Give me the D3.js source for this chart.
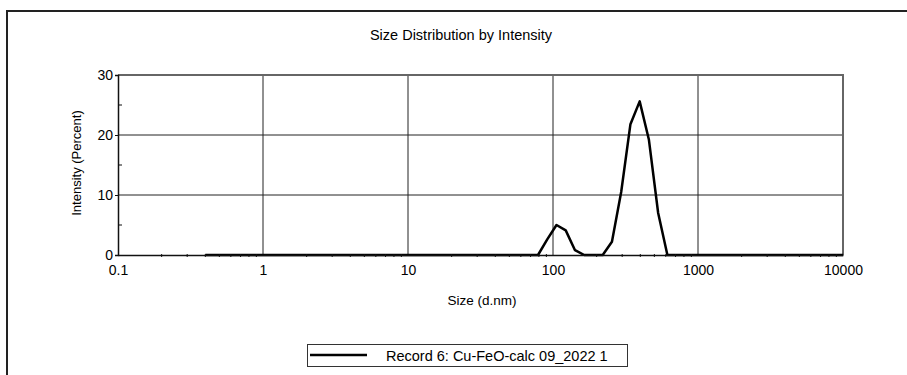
<!DOCTYPE html>
<html>
<head>
<meta charset="utf-8">
<script src="https://cdn.jsdelivr.net/npm/d3@7"></script>
<style>
  body { margin: 0; background: #fff; }
  svg { display: block; font-family: "Liberation Sans", Arial, sans-serif; }
  text { fill: #000; }
</style>
</head>
<body>
<svg width="907" height="375"></svg>
<script>
// size bins (d.nm) and intensity (%)
const sizes = [0.4, 78.82, 91.28, 105.7, 122.4, 141.8, 164.2, 190.1, 220.2, 255.0,
  295.3, 342.0, 396.1, 458.7, 531.2, 615.1, 10000];
const intensity = [0, 0, 2.6, 5.0, 4.1, 0.8, 0, 0, 0, 2.2,
  10.5, 21.8, 25.6, 19.2, 7.0, 0, 0];

const xTicks = [0.1, 1, 10, 100, 1000, 10000];
const yTicks = [0, 10, 20, 30];
const yMinor = [5, 15, 25];
const seriesName = 'Record 6: Cu-FeO-calc 09_2022 1';

const svg = d3.select('svg');

// outer frame
svg.append('path')
  .attr('d', 'M7,376 V11 H910')
  .attr('fill', 'none')
  .attr('stroke', '#222')
  .attr('stroke-width', 2);

const x = d3.scaleLog().domain([0.1, 10000]).range([118, 843]);
const y = d3.scaleLinear().domain([0, 30]).range([255, 75]);

// minor x ticks (2..9 per decade)
const minorX = [];
for (let d = 0.1; d < 10000; d *= 10) {
  for (let k = 2; k <= 9; k++) minorX.push(d * k);
}

// grid
svg.append('g').selectAll('line')
  .data(xTicks.slice(1, -1))
  .enter().append('line')
  .attr('x1', d => x(d)).attr('x2', d => x(d))
  .attr('y1', 75).attr('y2', 255)
  .attr('stroke', '#222').attr('stroke-width', 1);

svg.append('g').selectAll('line')
  .data(yTicks.slice(1, -1))
  .enter().append('line')
  .attr('x1', 118).attr('x2', 843)
  .attr('y1', d => y(d)).attr('y2', d => y(d))
  .attr('stroke', '#222').attr('stroke-width', 1);

// top and right plot border (grey)
svg.append('path')
  .attr('d', `M118,${y(30)} H${x(10000)} V255`)
  .attr('fill', 'none')
  .attr('stroke', '#666')
  .attr('stroke-width', 2);

// data line
const line = d3.line()
  .x((d, i) => x(sizes[i]))
  .y(d => y(d));

svg.append('path')
  .datum(intensity)
  .attr('d', line)
  .attr('fill', 'none')
  .attr('stroke', '#000')
  .attr('stroke-width', 2.5)
  .attr('stroke-linejoin', 'round');

// axes
const xAxis = d3.axisBottom(x)
  .tickValues(xTicks)
  .tickFormat(d3.format('~g'))
  .tickSize(0)
  .tickPadding(10);

const gx = svg.append('g')
  .attr('transform', 'translate(0,255)')
  .call(xAxis);
gx.select('.domain').attr('stroke', '#111').attr('stroke-width', 1.5);
gx.selectAll('text').attr('font-size', 14).attr('font-family', '"Liberation Sans", Arial, sans-serif').attr('fill', '#000');

gx.selectAll('.minor')
  .data(minorX)
  .enter().append('line')
  .attr('class', 'minor')
  .attr('x1', d => x(d)).attr('x2', d => x(d))
  .attr('y1', -1).attr('y2', 2)
  .attr('stroke', '#111');

const yAxis = d3.axisLeft(y)
  .tickValues(yTicks)
  .tickSize(3)
  .tickPadding(2);

const gy = svg.append('g')
  .attr('transform', 'translate(118,0)')
  .call(yAxis);
gy.select('.domain').attr('stroke', '#111').attr('stroke-width', 1.5);
gy.selectAll('.tick line').attr('stroke', '#111');
gy.selectAll('text').attr('font-size', 14).attr('font-family', '"Liberation Sans", Arial, sans-serif').attr('fill', '#000');

gy.selectAll('.minor')
  .data(yMinor)
  .enter().append('line')
  .attr('class', 'minor')
  .attr('x1', 0).attr('x2', 4)
  .attr('y1', d => y(d)).attr('y2', d => y(d))
  .attr('stroke', '#111');

// titles
svg.append('text')
  .attr('x', 461).attr('y', 40)
  .attr('text-anchor', 'middle')
  .attr('font-size', 14.5)
  .text('Size Distribution by Intensity');

svg.append('text')
  .attr('x', 482).attr('y', 305)
  .attr('text-anchor', 'middle')
  .attr('font-size', 13.5)
  .text('Size (d.nm)');

svg.append('text')
  .attr('transform', 'translate(81,163) rotate(-90)')
  .attr('text-anchor', 'middle')
  .attr('font-size', 13)
  .text('Intensity (Percent)');

// legend
const lg = svg.append('g');
lg.append('rect')
  .attr('x', 307.5).attr('y', 344.5)
  .attr('width', 320).attr('height', 22)
  .attr('fill', '#fff')
  .attr('stroke', '#333');
lg.append('line')
  .attr('x1', 310).attr('x2', 367)
  .attr('y1', 355).attr('y2', 355)
  .attr('stroke', '#000').attr('stroke-width', 2.5);
lg.append('text')
  .attr('x', 386).attr('y', 361)
  .attr('font-size', 14.5)
  .text(seriesName);
</script>
</body>
</html>
